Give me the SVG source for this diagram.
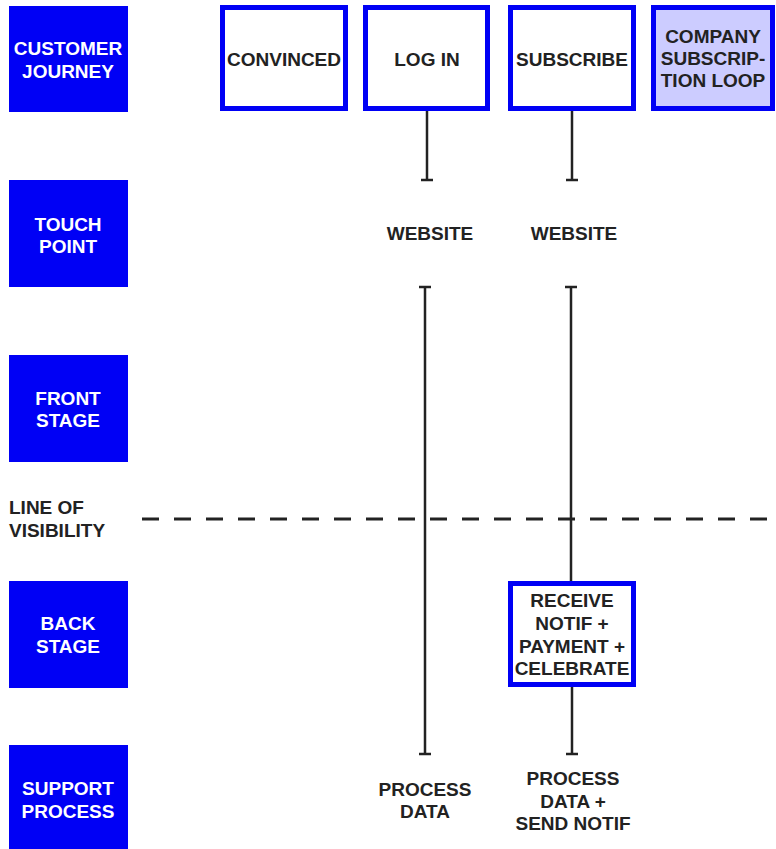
<svg xmlns="http://www.w3.org/2000/svg" width="776" height="849" viewBox="0 0 776 849">
  <style>
    text { font-family: "Liberation Sans", Arial, sans-serif; font-weight: bold; font-size: 19px; text-anchor: middle; }
    .lane rect { fill: #0000f5; }
    .lane text { fill: #ffffff; }
    .step rect { fill: #ffffff; stroke: #0000f5; stroke-width: 5; }
    .step.loop rect { fill: #ccccff; }
    .step text, .label text, .side { fill: #222222; }
    .conn line { stroke: #222222; stroke-width: 2.5; fill: none; }
    .visibility { stroke: #222222; stroke-width: 3; stroke-dasharray: 17 15; }
  </style>

  <!-- swimlane headers -->
  <g id="lane-customer-journey" class="lane">
    <rect x="9" y="6" width="119" height="106"/>
    <text x="68" y="55">CUSTOMER</text>
    <text x="68" y="78">JOURNEY</text>
  </g>
  <g id="lane-touch-point" class="lane">
    <rect x="9" y="180" width="119" height="107"/>
    <text x="68" y="231">TOUCH</text>
    <text x="68" y="253">POINT</text>
  </g>
  <g id="lane-front-stage" class="lane">
    <rect x="9" y="355" width="119" height="107"/>
    <text x="68" y="405">FRONT</text>
    <text x="68" y="427">STAGE</text>
  </g>
  <g id="lane-back-stage" class="lane">
    <rect x="9" y="581" width="119" height="107"/>
    <text x="68" y="630">BACK</text>
    <text x="68" y="653">STAGE</text>
  </g>
  <g id="lane-support-process" class="lane">
    <rect x="9" y="745" width="119" height="104"/>
    <text x="68" y="795">SUPPORT</text>
    <text x="68" y="818">PROCESS</text>
  </g>

  <!-- line of visibility -->
  <g id="line-of-visibility">
    <text class="side" x="9" y="514" style="text-anchor:start">LINE OF</text>
    <text class="side" x="9" y="537" style="text-anchor:start">VISIBILITY</text>
    <line class="visibility" x1="142" y1="519" x2="776" y2="519"/>
  </g>

  <!-- connectors -->
  <g id="connectors" class="conn">
    <!-- log in -> website -> process data -->
    <line x1="427" y1="111" x2="427" y2="180"/>
    <line x1="421" y1="180" x2="433" y2="180"/>
    <line x1="425" y1="287" x2="425" y2="754"/>
    <line x1="419" y1="287" x2="431" y2="287"/>
    <line x1="419" y1="754" x2="431" y2="754"/>
    <!-- subscribe -> website -> receive -> process -->
    <line x1="572" y1="111" x2="572" y2="180"/>
    <line x1="566" y1="180" x2="578" y2="180"/>
    <line x1="571" y1="287" x2="571" y2="581"/>
    <line x1="565" y1="287" x2="577" y2="287"/>
    <line x1="572" y1="687" x2="572" y2="754"/>
    <line x1="566" y1="754" x2="578" y2="754"/>
  </g>

  <!-- journey steps -->
  <g id="step-convinced" class="step">
    <rect x="222.5" y="7.5" width="123" height="101"/>
    <text x="284" y="66">CONVINCED</text>
  </g>
  <g id="step-log-in" class="step">
    <rect x="365.5" y="7.5" width="122" height="101"/>
    <text x="427" y="66">LOG IN</text>
  </g>
  <g id="step-subscribe" class="step">
    <rect x="510.5" y="7.5" width="123" height="101"/>
    <text x="572" y="66">SUBSCRIBE</text>
  </g>
  <g id="step-company-loop" class="step loop">
    <rect x="653.5" y="7.5" width="119" height="101"/>
    <text x="713" y="43">COMPANY</text>
    <text x="713" y="65">SUBSCRIP-</text>
    <text x="713" y="87">TION LOOP</text>
  </g>

  <!-- touch points -->
  <g id="touch-website-login" class="label">
    <text x="430" y="240">WEBSITE</text>
  </g>
  <g id="touch-website-subscribe" class="label">
    <text x="574" y="240">WEBSITE</text>
  </g>

  <!-- back stage -->
  <g id="back-receive-notif" class="step">
    <rect x="510.5" y="583.5" width="123" height="101"/>
    <text x="572" y="607">RECEIVE</text>
    <text x="572" y="630">NOTIF +</text>
    <text x="572" y="653">PAYMENT +</text>
    <text x="572" y="675">CELEBRATE</text>
  </g>

  <!-- support processes -->
  <g id="support-process-data" class="label">
    <text x="425" y="796">PROCESS</text>
    <text x="425" y="818">DATA</text>
  </g>
  <g id="support-process-send" class="label">
    <text x="573" y="785">PROCESS</text>
    <text x="573" y="808">DATA +</text>
    <text x="573" y="830">SEND NOTIF</text>
  </g>
</svg>
